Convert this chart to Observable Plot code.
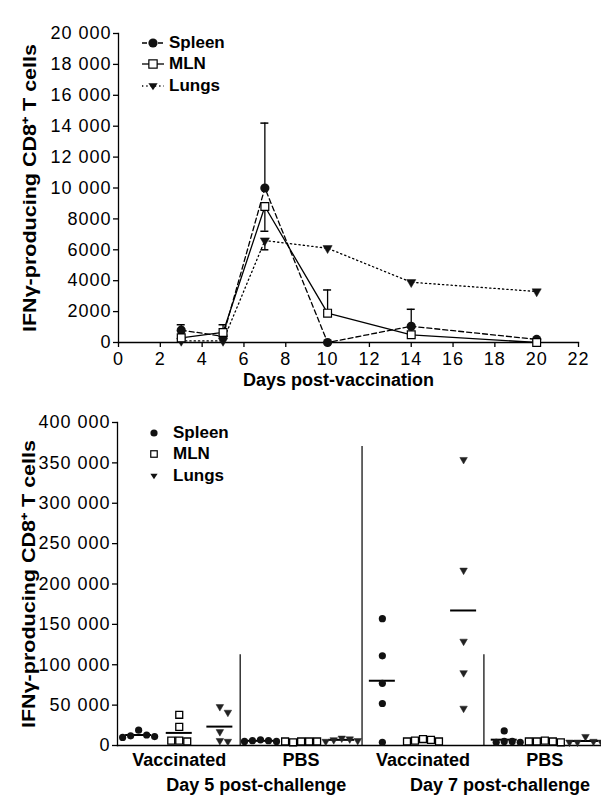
<!DOCTYPE html>
<html>
<head>
<meta charset="utf-8">
<script src="https://cdn.jsdelivr.net/npm/d3@7"></script>
<script src="https://cdn.jsdelivr.net/npm/@observablehq/plot@0.6"></script>
<style>
  html, body { margin: 0; padding: 0; background: #fff; }
  #wrap { position: relative; width: 601px; height: 798px; font-family: "Liberation Sans", Arial, Helvetica, sans-serif; color: #000; overflow: hidden; }
  .panel { position: absolute; left: 0; }
  .plab { position: absolute; font-weight: bold; font-size: 19px; }
  .legend { position: absolute; font-weight: bold; font-size: 17px; }
  .legend .row { display: flex; align-items: center; height: 21.5px; }
  .legend svg { display: block; }
  [aria-label$="tick label"] text { letter-spacing: 1px; }
</style>
</head>
<body>
<div id="wrap">
  <div class="plab" style="left:12px;top:9px;">A</div>
  <div class="plab" style="left:13px;top:388px;">B</div>
  <div id="panelA" class="panel" style="top:0px;"></div>
  <div id="panelB" class="panel" style="top:392px;"></div>
  <div id="legA" class="legend" style="left:142px;top:32px;"></div>
  <div id="legB" class="legend" style="left:147px;top:422px;"></div>
</div>
<script>
// ---------- Panel A data ----------
const days = [3, 5, 7, 10, 14, 20];
const spleenA = [800, 400, 10000, 0, 1050, 200];
const mlnA = [300, 650, 8800, 1900, 500, 0];
const lungsA = [100, 100, 6600, 6100, 3900, 3300];
// error bar ends (null = none drawn)
const spleenErrEnd = [1150, null, 14200, null, 2150, null];
const mlnErrEnd = [null, 1150, 7200, 3400, null, null];
const lungsErrEnd = [null, null, 6000, null, null, null];
const xTicksA = [0, 2, 4, 6, 8, 10, 12, 14, 16, 18, 20, 22];
const yTicksA = [0, 2000, 4000, 6000, 8000, 10000, 12000, 14000, 16000, 18000, 20000];
const seriesNames = ["Spleen", "MLN", "Lungs"];

// ---------- Panel B data ----------
const d5VacSpleen = [19000, 13000, 12000, 11000, 10000];
const d5VacMLN = [38000, 23000, 6000, 5000, 6000];
const d5VacLungs = [48000, 41000, 17000, 6000, 5000];
const d5PbsSpleen = [7000, 6000, 6000, 5000, 5000];
const d5PbsMLN = [5000, 5000, 4000, 5000, 5000];
const d5PbsLungs = [9000, 8000, 7000, 6000, 5000];
const d7VacSpleen = [157000, 111000, 77000, 52000, 4000];
const d7VacMLN = [8000, 7000, 6000, 5000, 5000];
const d7VacLungs = [354000, 217000, 129000, 90000, 46000];
const d7PbsSpleen = [18000, 5000, 5000, 4000, 4000];
const d7PbsMLN = [6000, 5000, 5000, 4000, 5000];
const d7PbsLungs = [11000, 5000, 4000, 4000, 4000];
const treatmentLabels = ["Vaccinated", "PBS", "Vaccinated", "PBS"];
const dayLabels = ["Day 5 post-challenge", "Day 7 post-challenge"];
const yTicksB = [0, 50000, 100000, 150000, 200000, 250000, 300000, 350000, 400000];
const shortDividerTop = 142000;

const yLabel = "IFNγ-producing CD8⁺ T cells";
const FONT = '"Liberation Sans", Arial, Helvetica, sans-serif';
const spaceFmt = d => d >= 10000 ? d3.format(",")(d).replace(/,/g, " ") : String(d);

// ---------- Panel A ----------
const seriesA = [spleenA, mlnA, lungsA];
const errA = [spleenErrEnd, mlnErrEnd, lungsErrEnd];
const ptsA = [];
const errRows = [];
seriesA.forEach((arr, s) => arr.forEach((v, i) => {
  ptsA.push({day: days[i], value: v, series: seriesNames[s]});
  if (errA[s][i] != null) errRows.push({day: days[i], value: v, end: errA[s][i]});
}));
const dash = {Spleen: "5,3", MLN: null, Lungs: "1.3,3"};

const A = Plot.plot({
  width: 601, height: 392,
  marginLeft: 118, marginRight: 23, marginTop: 33, marginBottom: 50,
  style: {fontFamily: FONT, fontSize: "18px", color: "#000", background: "#fff", overflow: "visible"},
  x: {domain: [0, 22]},
  y: {domain: [0, 20000]},
  marks: [
    Plot.frame({anchor: "left", strokeWidth: 1.3}),
    Plot.frame({anchor: "bottom", strokeWidth: 1.3}),
    Plot.axisY({ticks: yTicksA, tickSize: 5, tickPadding: 2, tickFormat: spaceFmt, label: null, fontSize: 18, strokeWidth: 1.3}),
    Plot.axisX({ticks: xTicksA, tickSize: 5, tickPadding: 5, tickFormat: d => String(d), label: null, fontSize: 18, strokeWidth: 1.3}),
    ...seriesNames.map(n => Plot.line(ptsA.filter(d => d.series === n), {x: "day", y: "value", stroke: "#000", strokeWidth: 1.3, strokeDasharray: dash[n]})),
    Plot.ruleX(errRows, {x: "day", y1: "value", y2: "end", stroke: "#000", strokeWidth: 1.3}),
    Plot.ruleY(errRows, {x1: "day", x2: "day", y: "end", insetLeft: -4, insetRight: -4, stroke: "#000", strokeWidth: 1.5}),
    Plot.dot(ptsA.filter(d => d.series === "Lungs"), {x: "day", y: "value", symbol: "triangle", r: 3.4, fill: "#111", stroke: "#111", strokeWidth: 0.5, rotate: 180}),
    Plot.dot(ptsA.filter(d => d.series === "Spleen"), {x: "day", y: "value", symbol: "circle", r: 4.6, fill: "#111", stroke: "none"}),
    Plot.dot(ptsA.filter(d => d.series === "MLN"), {x: "day", y: "value", symbol: "square", r: 4.4, fill: "#fff", stroke: "#000", strokeWidth: 1.2}),
    Plot.text([yLabel], {frameAnchor: "left", textAnchor: "middle", lineAnchor: "middle", rotate: -90, dx: -88, fontWeight: "bold", fontSize: 18}),
    Plot.text(["Days post-vaccination"], {frameAnchor: "bottom", lineAnchor: "middle", dx: -10, dy: 38, fontWeight: "bold", fontSize: 18})
  ]
});
document.getElementById("panelA").append(A);

// ---------- Panel B ----------
const groupsB = [d5VacSpleen, d5VacMLN, d5VacLungs, d5PbsSpleen, d5PbsMLN, d5PbsLungs,
                 d7VacSpleen, d7VacMLN, d7VacLungs, d7PbsSpleen, d7PbsMLN, d7PbsLungs];
const hB = 406, mTopB = 30, mBotB = 53;
const pxPerUnit = (hB - mTopB - mBotB) / 400000;
const xDomB = [-0.52, 11.37];
const mLeftB = 117, mRightB = 1;
const pxPerIndex = (601 - mLeftB - mRightB) / (xDomB[1] - xDomB[0]);

function dodge(values, stepPx, minDist) {
  const placed = [];
  return values.map(v => {
    const y = v * pxPerUnit;
    for (const s of [0, 1, -1, 2, -2, 3, -3]) {
      const x = s * stepPx;
      if (placed.every(p => Math.hypot(p.x - x, p.y - y) >= minDist)) { placed.push({x, y}); return x / pxPerIndex; }
    }
    placed.push({x: 0, y}); return 0;
  });
}
const ptsB = [];
const meansB = [];
groupsB.forEach((vals, g) => {
  const offs = dodge(vals, 8, 7.5);
  vals.forEach((v, k) => ptsB.push({g, x: g + offs[k], value: v, tissue: seriesNames[g % 3]}));
  meansB.push({g, mean: d3.mean(vals)});
});
const treatPos = treatmentLabels.map((t, i) => ({label: t, x: i * 3 + 1}));
const dayPos = dayLabels.map((t, i) => ({label: t, x: i * 6 + 2.5}));
const dividers = [
  {x: 2.5, top: shortDividerTop},
  {x: 5.5, top: 400000},
  {x: 8.5, top: shortDividerTop}
];

const B = Plot.plot({
  width: 601, height: hB,
  marginLeft: mLeftB, marginRight: mRightB, marginTop: mTopB, marginBottom: mBotB,
  style: {fontFamily: FONT, fontSize: "18px", color: "#000", background: "#fff", overflow: "visible"},
  x: {domain: xDomB, axis: null},
  y: {domain: [0, 400000]},
  marks: [
    Plot.frame({anchor: "left", strokeWidth: 1.3}),
    Plot.frame({anchor: "bottom", strokeWidth: 1.3}),
    Plot.axisY({ticks: yTicksB, tickSize: 5, tickPadding: 2, tickFormat: spaceFmt, label: null, fontSize: 18, strokeWidth: 1.3}),
    Plot.ruleX(dividers, {x: "x", y1: 0, y2: "top", insetBottom: -24, stroke: "#000", strokeWidth: 1.2}),
    Plot.ruleY(meansB, {x1: "g", x2: "g", y: "mean", insetLeft: -13, insetRight: -13, stroke: "#000", strokeWidth: 2}),
    Plot.dot(ptsB.filter(d => d.tissue === "Spleen"), {x: "x", y: "value", symbol: "circle", r: 3.6, fill: "#111", stroke: "none"}),
    Plot.dot(ptsB.filter(d => d.tissue === "MLN"), {x: "x", y: "value", symbol: "square", r: 3.9, fill: "#fff", stroke: "#000", strokeWidth: 1.3}),
    Plot.dot(ptsB.filter(d => d.tissue === "Lungs"), {x: "x", y: "value", symbol: "triangle", r: 2.8, fill: "#222", stroke: "#222", strokeWidth: 0.5, rotate: 180}),
    Plot.text(treatPos, {x: "x", text: "label", frameAnchor: "bottom", lineAnchor: "middle", dy: 15, fontWeight: "bold", fontSize: 18}),
    Plot.text(dayPos, {x: "x", text: "label", frameAnchor: "bottom", lineAnchor: "middle", dx: 16, dy: 40, fontWeight: "bold", fontSize: 18}),
    Plot.text([yLabel], {frameAnchor: "left", textAnchor: "middle", lineAnchor: "middle", rotate: -90, dx: -88, fontWeight: "bold", fontSize: 18})
  ]
});
document.getElementById("panelB").append(B);

// stretch the long rotated axis titles to the reference's length
document.querySelectorAll("#wrap svg text").forEach(t => {
  if (t.textContent === yLabel) {
    t.setAttribute("textLength", 288);
    t.setAttribute("lengthAdjust", "spacingAndGlyphs");
  }
});

// ---------- Legends ----------
function markerSvg(name, withLine, size) {
  const w = withLine ? 22 : 14, h = 16, cx = w / 2, cy = h / 2;
  let s = `<svg width="${w}" height="${h}">`;
  if (withLine) {
    const da = dash[name] ? `stroke-dasharray="${dash[name]}"` : "";
    s += `<line x1="0" x2="${w}" y1="${cy}" y2="${cy}" stroke="#000" stroke-width="1.3" ${da}/>`;
  }
  if (name === "Spleen") s += `<circle cx="${cx}" cy="${cy}" r="${size}" fill="#111"/>`;
  if (name === "MLN") { const a = size * 0.9; s += `<rect x="${cx - a}" y="${cy - a}" width="${2 * a}" height="${2 * a}" fill="#fff" stroke="#000" stroke-width="1.2"/>`; }
  if (name === "Lungs") { const a = size; s += `<path d="M${cx - a},${cy - a * 0.6}L${cx + a},${cy - a * 0.6}L${cx},${cy + a * 0.9}Z" fill="#111"/>`; }
  return s + "</svg>";
}
document.getElementById("legA").innerHTML = seriesNames.map(n =>
  `<div class="row">${markerSvg(n, true, 4.6)}<span style="margin-left:5px">${n}</span></div>`).join("");
document.getElementById("legB").innerHTML = seriesNames.map(n =>
  `<div class="row">${markerSvg(n, false, 3.6)}<span style="margin-left:12px">${n}</span></div>`).join("");
</script>
</body>
</html>
